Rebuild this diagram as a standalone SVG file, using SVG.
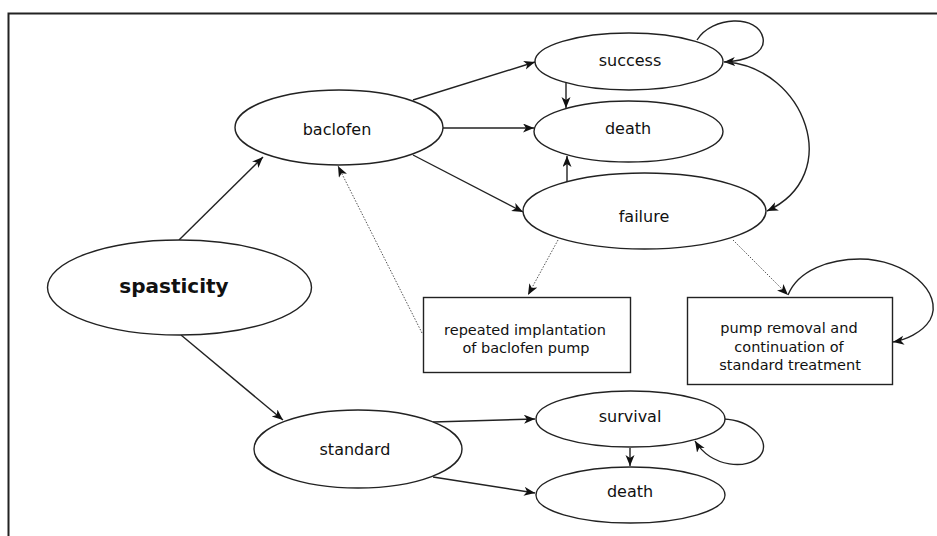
<svg xmlns="http://www.w3.org/2000/svg" width="937" height="536" viewBox="0 0 937 536">
  <style>
    .node { fill: #fff; stroke: #222; stroke-width: 1.4; }
    .lbl { font-family: "DejaVu Sans", Verdana, sans-serif; font-size: 16px; fill: #111; text-anchor: middle; }
    .big { font-size: 20px; font-weight: bold; }
    .box { font-size: 14.5px; }
    .edge { fill: none; stroke: #222; stroke-width: 1.4; marker-end: url(#arr); }
    .dot { fill: none; stroke: #555; stroke-width: 1; stroke-dasharray: 1.5 1.5; marker-end: url(#arr); }
  </style>
  <defs>
    <marker id="arr" markerUnits="userSpaceOnUse" markerWidth="12" markerHeight="10" refX="11" refY="4.5" orient="auto">
      <path d="M0,0 L11,4.5 L0,9 L3,4.5 Z" fill="#111"/>
    </marker>
  </defs>
  <rect width="937" height="536" fill="#fff"/>
  <path d="M8.5,536 V13.5 H937" fill="none" stroke="#222" stroke-width="2"/>

  <g id="connectors">
    <path class="edge" d="M179,240 L263,157"/>
    <path class="edge" d="M181,335 L283,420"/>
    <path class="edge" d="M413,100 L535,62"/>
    <path class="edge" d="M443,128 L534,128"/>
    <path class="edge" d="M413,155 L523,212"/>
    <path class="edge" d="M566,83 L566,108"/>
    <path class="edge" d="M567,182 L567,156"/>
    <path class="edge" d="M697,40 C712,16 758,14 763,38 C766,54 745,61 724,62"/>
    <path class="edge" d="M726,62 C805,68 845,175 767,211"/>
    <path class="dot" d="M558,240 L528,295"/>
    <path class="dot" d="M733,240 L788,295"/>
    <path class="dot" d="M422,333 L338,166"/>
    <path class="edge" d="M788,295 C798,270 830,259 860,259 C905,259 945,292 930,320 C922,333 905,340 893,342"/>
    <path class="edge" d="M433,422 L535,419"/>
    <path class="edge" d="M433,477 L535,493"/>
    <path class="edge" d="M630,448 L630,466"/>
    <path class="edge" d="M723,419 C752,420 772,442 760,456 C748,470 712,468 695,441"/>
  </g>

  <g id="spasticity">
    <ellipse class="node" cx="179.5" cy="287.5" rx="132" ry="47.5"/>
    <text class="lbl big" x="174" y="293">spasticity</text>
  </g>
  <g id="baclofen">
    <ellipse class="node" cx="339" cy="127.5" rx="104" ry="37.5"/>
    <text class="lbl" x="337" y="135">baclofen</text>
  </g>
  <g id="success">
    <ellipse class="node" cx="629" cy="61.5" rx="94" ry="28.5"/>
    <text class="lbl" x="630" y="66">success</text>
  </g>
  <g id="death1">
    <ellipse class="node" cx="628.5" cy="131.5" rx="94.5" ry="30.5"/>
    <text class="lbl" x="628" y="134">death</text>
  </g>
  <g id="failure">
    <ellipse class="node" cx="644.5" cy="211" rx="121.5" ry="38"/>
    <text class="lbl" x="644" y="222">failure</text>
  </g>
  <g id="repeated">
    <rect class="node" x="423.5" y="297.5" width="207" height="75"/>
    <text class="lbl box" x="525" y="335">repeated implantation</text>
    <text class="lbl box" x="526" y="353">of baclofen pump</text>
  </g>
  <g id="pumpremoval">
    <rect class="node" x="687.5" y="297.5" width="205" height="87"/>
    <text class="lbl box" x="789" y="333">pump removal and</text>
    <text class="lbl box" x="789" y="352">continuation of</text>
    <text class="lbl box" x="790" y="370">standard treatment</text>
  </g>
  <g id="standard">
    <ellipse class="node" cx="358" cy="449" rx="104" ry="39"/>
    <text class="lbl" x="355" y="455">standard</text>
  </g>
  <g id="survival">
    <ellipse class="node" cx="630.5" cy="419" rx="94.5" ry="28"/>
    <text class="lbl" x="630" y="422">survival</text>
  </g>
  <g id="death2">
    <ellipse class="node" cx="630.5" cy="495" rx="94.5" ry="28"/>
    <text class="lbl" x="630" y="497">death</text>
  </g>
</svg>
